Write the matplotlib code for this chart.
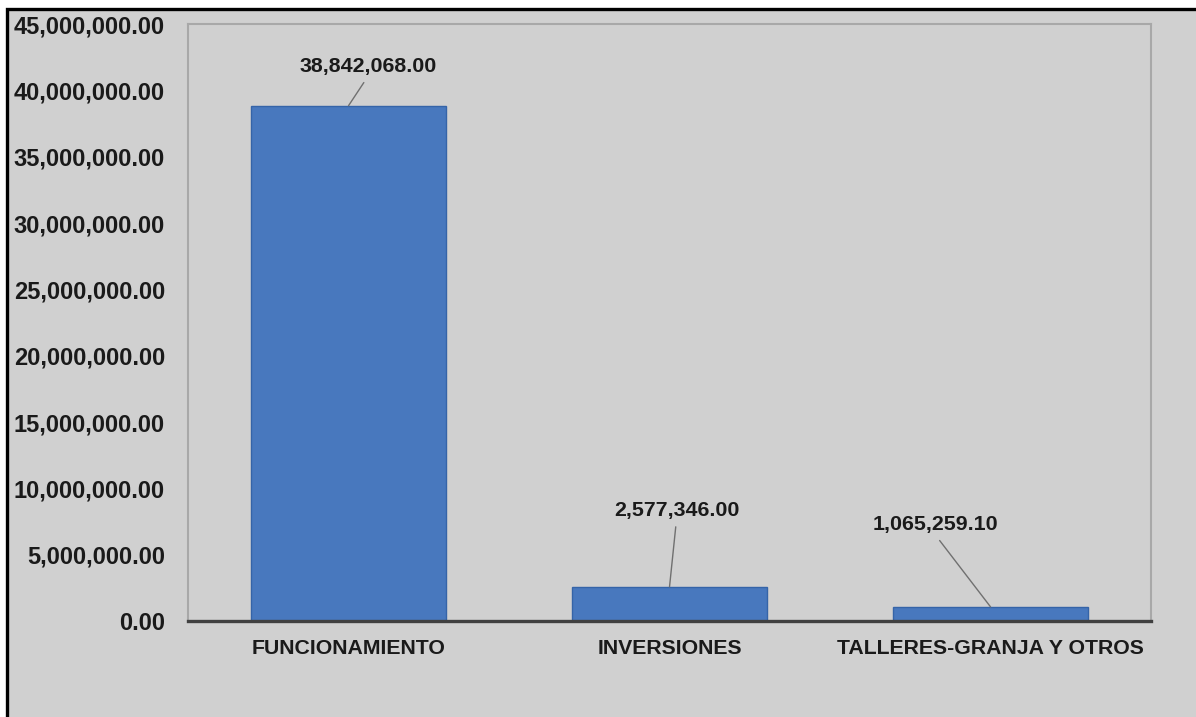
import matplotlib.pyplot as plt
from matplotlib.patches import Rectangle
from matplotlib.ticker import FuncFormatter

categories = ["FUNCIONAMIENTO", "INVERSIONES", "TALLERES-GRANJA Y OTROS"]
values = [38842068.00, 2577346.00, 1065259.10]
value_labels = ["38,842,068.00", "2,577,346.00", "1,065,259.10"]
y_ticks = list(range(0, 45000001, 5000000))

# label offsets from bar top (points)
label_offsets = [(14, 28), (5, 55), (-40, 59)]

plt.rcParams["font.family"] = ["Liberation Sans", "DejaVu Sans"]
plt.rcParams["font.weight"] = "bold"

bg = "#d0d0d0"
fig = plt.figure(figsize=(11.96, 7.17), dpi=100, facecolor="white")

# outer frame of the chart area
frame = Rectangle((0.0058, -0.1), 1.2, 1.1 - 0.0126, transform=fig.transFigure,
                  facecolor=bg, edgecolor="black", lw=2.4, zorder=-10)
fig.patches.append(frame)

ax = fig.add_axes([0.1572, 0.1339, 0.9624 - 0.1572, 0.9665 - 0.1339])
ax.set_facecolor(bg)

x = range(len(categories))
ax.bar(x, values, width=0.607, color="#4878be", edgecolor="#3564a8", lw=1.0, zorder=2)

for i, (v, lab, off) in enumerate(zip(values, value_labels, label_offsets)):
    ax.annotate(lab, xy=(i, v), xytext=off, textcoords="offset points",
                ha="center", va="center", fontsize=15.4, fontweight="bold",
                color="#1a1a1a",
                arrowprops=dict(arrowstyle="-", color="#707070", lw=1.0,
                                shrinkA=3, shrinkB=0, relpos=(0.5, 0)))

ax.set_xlim(-0.5, 2.5)
ax.set_ylim(0, 45000000)
ax.set_yticks(y_ticks)
ax.yaxis.set_major_formatter(FuncFormatter(lambda v, p: f"{v:,.2f}"))
ax.set_xticks(list(x))
ax.set_xticklabels(categories)
ax.tick_params(axis="y", length=0, pad=16.5, labelsize=17, labelcolor="#1a1a1a")
ax.tick_params(axis="x", length=0, pad=13, labelsize=15.3, labelcolor="#1a1a1a")

for side in ["left", "top", "right"]:
    ax.spines[side].set_color("#a8a8a8")
    ax.spines[side].set_linewidth(1.5)
ax.spines["bottom"].set_color("#404040")
ax.spines["bottom"].set_linewidth(2.4)
ax.spines["bottom"].set_zorder(3)

plt.savefig("out.png", dpi=100, facecolor="white")
plt.close()
